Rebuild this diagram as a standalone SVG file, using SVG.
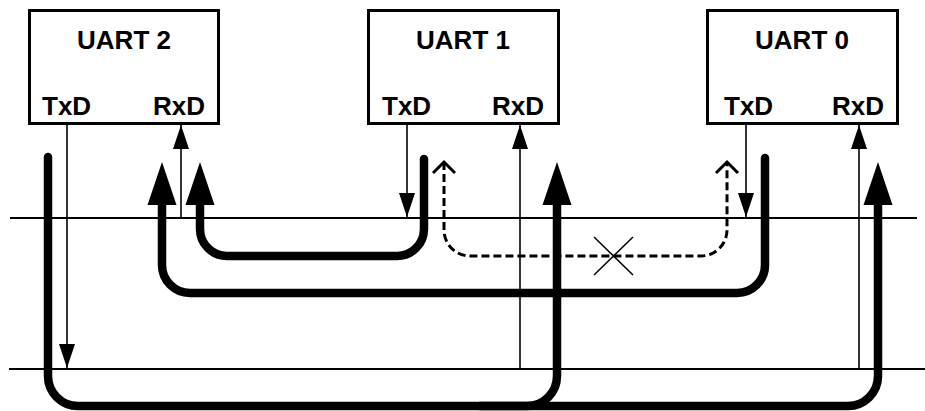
<svg xmlns="http://www.w3.org/2000/svg" width="925" height="411" viewBox="0 0 925 411">
<style>
.box{fill:#fff;stroke:#000;stroke-width:3}
.t{font-family:"Liberation Sans",Arial,sans-serif;font-weight:bold;font-size:26px;fill:#000}
.bus{stroke:#000;stroke-width:1.8;fill:none}
.sig{stroke:#000;stroke-width:1.6;fill:none;marker-end:url(#thin)}
.thick{stroke:#000;stroke-width:8.5;fill:none;stroke-linecap:round;marker-end:url(#fat)}
.dash{stroke:#000;stroke-width:3;fill:none;stroke-dasharray:8 4;marker-start:url(#openS);marker-end:url(#openE)}
.x{stroke:#000;stroke-width:1.5}
</style>
<defs>
<marker id="thin" markerUnits="userSpaceOnUse" viewBox="0 0 24 16" refX="24" refY="8" markerWidth="24" markerHeight="16" orient="auto">
<path d="M0,0 L24,8 L0,16 z" fill="#000"/>
</marker>
<marker id="fat" markerUnits="userSpaceOnUse" viewBox="0 0 43 30" refX="0" refY="15" markerWidth="43" markerHeight="30" orient="auto">
<path d="M0,0.5 L43,15 L0,29.5 z" fill="#000"/>
</marker>
<marker id="openE" markerUnits="userSpaceOnUse" viewBox="-3 -3 18 28" refX="11" refY="11" markerWidth="18" markerHeight="28" orient="auto">
<path d="M0,0 L11,11 L0,22" fill="none" stroke="#000" stroke-width="3"/>
</marker>
<marker id="openS" markerUnits="userSpaceOnUse" viewBox="-3 -3 18 28" refX="11" refY="11" markerWidth="18" markerHeight="28" orient="auto-start-reverse">
<path d="M0,0 L11,11 L0,22" fill="none" stroke="#000" stroke-width="3"/>
</marker>
</defs>

<g id="buses">
<line class="bus" x1="10" y1="218" x2="917" y2="218"/>
<line class="bus" x1="9" y1="369" x2="925" y2="369"/>
</g>

<g id="uart2">
<rect class="box" x="29.5" y="10.5" width="189" height="113"/>
<text class="t" x="124" y="49" text-anchor="middle">UART 2</text>
<text class="t" x="42" y="115">TxD</text>
<text class="t" x="205" y="115" text-anchor="end">RxD</text>
</g>
<g id="uart1">
<rect class="box" x="368.5" y="10.5" width="190" height="113"/>
<text class="t" x="463" y="49" text-anchor="middle">UART 1</text>
<text class="t" x="382" y="115">TxD</text>
<text class="t" x="544" y="115" text-anchor="end">RxD</text>
</g>
<g id="uart0">
<rect class="box" x="707.5" y="10.5" width="190" height="113"/>
<text class="t" x="802" y="49" text-anchor="middle">UART 0</text>
<text class="t" x="724" y="115">TxD</text>
<text class="t" x="884" y="115" text-anchor="end">RxD</text>
</g>

<g id="connectors">
<path class="sig" d="M67,124 V368"/>
<path class="sig" d="M181,218 V125"/>
<path class="sig" d="M407,124 V217"/>
<path class="sig" d="M520,369 V125"/>
<path class="sig" d="M746,124 V217"/>
<path class="sig" d="M859,369 V125"/>

<path class="thick" d="M48,157 V376 A30,30 0 0 0 78,406 H848 A30,30 0 0 0 878,376 V205"/>
<path class="thick" d="M480,406 H527 A30,30 0 0 0 557,376 V205"/>
<path class="thick" d="M424,159 V229 A27,27 0 0 1 397,256 H227 A27,27 0 0 1 200,229 V205"/>
<path class="thick" d="M765,158 V265 A28,28 0 0 1 737,293 H190 A28,28 0 0 1 162,265 V205"/>

<path class="dash" d="M444,162 V230 A26,26 0 0 0 470,256 H701 A26,26 0 0 0 727,230 V162"/>
<line class="x" x1="594" y1="237" x2="633" y2="275"/>
<line class="x" x1="594" y1="275" x2="633" y2="237"/>
</g>
</svg>
